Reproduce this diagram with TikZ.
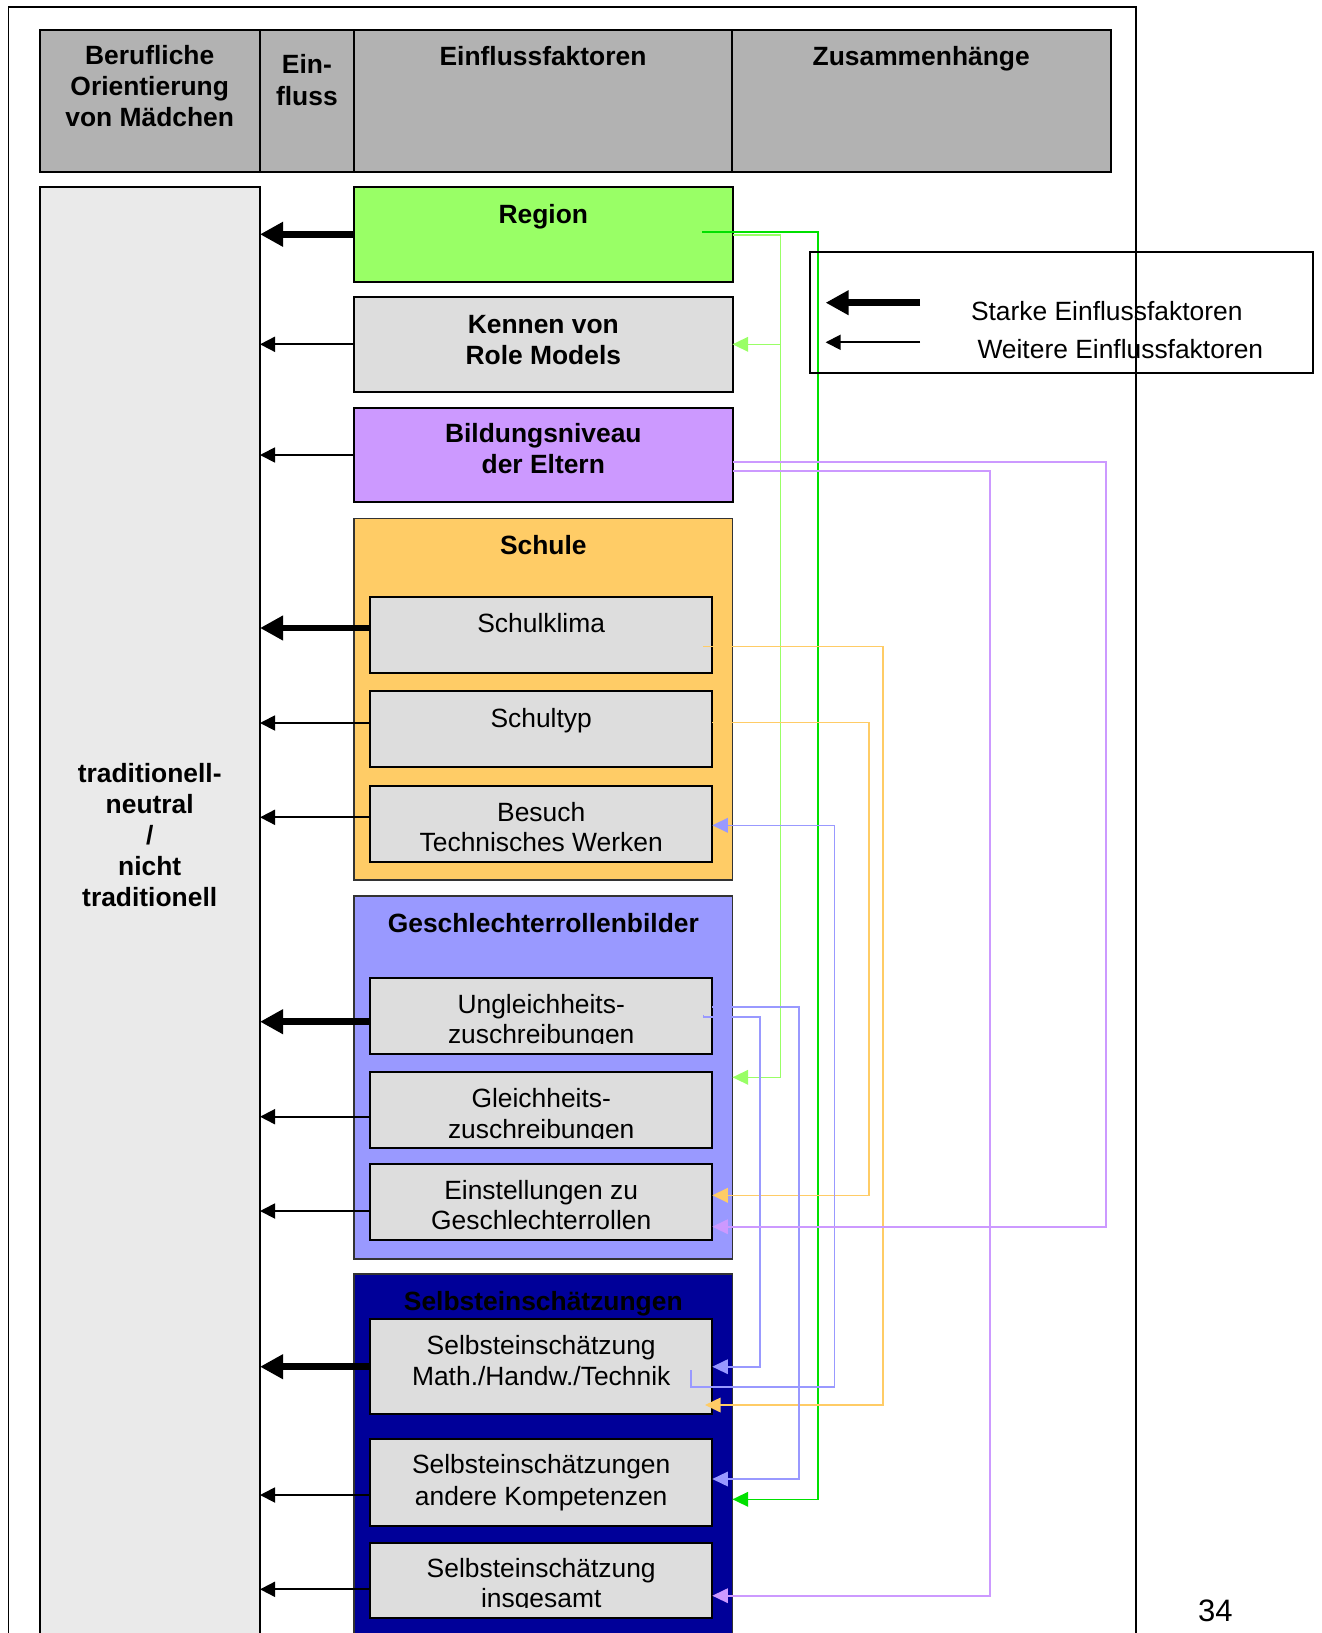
\documentclass[tikz,border=0pt]{standalone}
\usepackage{fontspec}
\setmainfont{Liberation Sans}
\usetikzlibrary{arrows.meta}
\definecolor{hdrgray}{HTML}{B2B2B2}
\definecolor{leftgray}{HTML}{EAEAEA}
\definecolor{boxgray}{HTML}{DDDDDD}
\definecolor{regiongreen}{HTML}{99FF66}
\definecolor{eduviolet}{HTML}{CC99FF}
\definecolor{schoolorange}{HTML}{FFCC66}
\definecolor{genderblue}{HTML}{9999FF}
\definecolor{selfnavy}{HTML}{000099}
\definecolor{darkgreenline}{HTML}{00E000}
\newcommand\diafont{\fontsize{13.2pt}{15.3pt}\selectfont}
\newcommand\mkbox[6]{\node[#1, minimum width={(#5-#3)*0.5pt}, minimum height={(#6-#4)*0.5pt}] (#2) at ({(#3+#5)/2},{(#4+#6)/2}) {};}
\begin{document}
\begin{tikzpicture}[x=0.5pt,y=-0.5pt,
  every node/.style={inner sep=0pt,outer sep=0pt},
  frame/.style={draw=black,line width=0.9pt,rectangle},
  hdrcell/.style={draw=black,line width=1pt,fill=hdrgray,rectangle},
  leftbox/.style={draw=black,line width=1pt,fill=leftgray,rectangle},
  factorbox/.style={draw=black,line width=1pt,rectangle},
  groupbox/.style={draw=black!80,line width=0.8pt,rectangle},
  innerbox/.style={draw=black,line width=1pt,fill=boxgray,rectangle},
  legendbox/.style={draw=black,line width=1pt,rectangle},
  txt/.style={anchor=base,font=\diafont},
  btxt/.style={anchor=base,font=\diafont\bfseries},
  strongarr/.style={line width=3.35pt,-{Triangle[length=11.5pt,width=11.7pt]}},
  weakarr/.style={line width=0.9pt,-{Triangle[length=7.5pt,width=7.5pt]}},
  link/.style={line width=0.8pt,-{Triangle[length=7.8pt,width=7.3pt]}}]
\useasboundingbox (0,0) rectangle (1322,1633);

% page frame
\mkbox{frame}{page}{8.4}{7.3}{1135.7}{1660}

% header
\mkbox{hdrcell}{hdrA}{39.6}{30}{259.7}{171.7}
\mkbox{hdrcell}{hdrB}{259.7}{30}{354.1}{171.7}
\mkbox{hdrcell}{hdrC}{354.1}{30}{731.9}{171.7}
\mkbox{hdrcell}{hdrD}{731.9}{30}{1110.5}{171.7}
\node[btxt] (hA1) at (149.7,64) {Berufliche};
\node[btxt] (hA2) at (149.7,95.4) {Orientierung};
\node[btxt] (hA3) at (149.7,126) {von Mädchen};
\node[btxt] (hB1) at (306.9,73.3) {Ein-};
\node[btxt] (hB2) at (306.9,105) {fluss};
\node[btxt] (hC1) at (543,65) {Einflussfaktoren};
\node[btxt] (hD1) at (921.2,65) {Zusammenhänge};

% left column
\mkbox{leftbox}{leftcol}{39.6}{187}{260}{1660}
\node[btxt] (tr1) at (149.7,782.7) {traditionell-};
\node[btxt] (tr2) at (149.7,813.5) {neutral};
\node[btxt] (tr3) at (149.7,844.3) {/};
\node[btxt] (tr4) at (149.7,875.1) {nicht};
\node[btxt] (tr5) at (149.7,906) {traditionell};

% factor boxes
\mkbox{factorbox,fill=regiongreen}{region}{354.1}{187.3}{732.5}{281.7}
\mkbox{factorbox,fill=boxgray}{kennen}{354.1}{297.3}{732.5}{392}
\mkbox{factorbox,fill=eduviolet}{bildung}{354.1}{408}{732.5}{502.2}
\mkbox{groupbox,fill=schoolorange}{schule}{354.1}{518.3}{732.5}{880}
\mkbox{groupbox,fill=genderblue}{geschl}{354.1}{896}{732.5}{1258.7}
\mkbox{groupbox,fill=selfnavy}{selbst}{354.1}{1274}{732.5}{1660}

% inner boxes
\mkbox{innerbox}{klima}{370}{597}{712.3}{673}
\mkbox{innerbox}{typ}{370}{691.3}{712.3}{767.3}
\mkbox{innerbox}{besuch}{370}{786}{712.3}{862}
\mkbox{innerbox}{ungl}{370}{977.7}{712.3}{1054}
\mkbox{innerbox}{gleich}{370}{1072.3}{712.3}{1148.3}
\mkbox{innerbox}{einst}{370}{1164.3}{712.3}{1240}
\mkbox{innerbox}{math}{370}{1319.3}{712.3}{1414.3}
\mkbox{innerbox}{andere}{370}{1439}{712.3}{1526}
\mkbox{innerbox}{insg}{370}{1542.7}{712.3}{1618}

% texts of factor boxes
\node[btxt] (regiont) at (543.3,223.3) {Region};
\node[btxt] (kennent1) at (543.3,333.3) {Kennen von};
\node[btxt] (kennent2) at (543.3,364) {Role Models};
\node[btxt] (bildungt1) at (543.3,442.7) {Bildungsniveau};
\node[btxt] (bildungt2) at (543.3,473.3) {der Eltern};
\node[btxt] (schulet) at (543.3,554) {Schule};
\node[txt] (klimat) at (541.2,632.3) {Schulklima};
\node[txt] (typt) at (541.2,727.7) {Schultyp};
\node[txt] (besucht1) at (541.2,821) {Besuch};
\node[txt] (besucht2) at (541.2,851.7) {Technisches Werken};
\node[btxt] (geschlt) at (543.3,932.3) {Geschlechterrollenbilder};
\node[txt] (unglt1) at (541.2,1013.3) {Ungleichheits-};
\begin{scope}
\clip (370,1000) rectangle (712.3,1043.6);
\node[txt] (unglt2) at (541.2,1043) {zuschreibungen};
\end{scope}
\node[txt] (gleicht1) at (541.2,1107.5) {Gleichheits-};
\begin{scope}
\clip (370,1090) rectangle (712.3,1138.8);
\node[txt] (gleicht2) at (541.2,1138.2) {zuschreibungen};
\end{scope}
\node[txt] (einstt1) at (541.2,1199) {Einstellungen zu};
\node[txt] (einstt2) at (541.2,1229.3) {Geschlechterrollen};
\node[btxt] (selbstt) at (543.3,1310) {Selbsteinschätzungen};
\node[txt] (matht1) at (541.2,1354) {Selbsteinschätzung};
\node[txt] (matht2) at (541.2,1385) {Math./Handw./Technik};
\node[txt] (anderet1) at (541.2,1473.3) {Selbsteinschätzungen};
\node[txt] (anderet2) at (541.2,1505) {andere Kompetenzen};
\node[txt] (insgt1) at (541.2,1577.3) {Selbsteinschätzung};
\begin{scope}
\clip (370,1585) rectangle (712.3,1607.9);
\node[txt] (insgt2) at (541.2,1607.3) {insgesamt};
\end{scope}

% influence arrows to the left column
\draw[strongarr] (region.west |- 0,234.3) -- (leftcol.east |- 0,234.3);
\draw[weakarr] (kennen.west |- 0,344.3) -- (leftcol.east |- 0,344.3);
\draw[weakarr] (bildung.west |- 0,455) -- (leftcol.east |- 0,455);
\draw[strongarr] (klima.west |- 0,628) -- (leftcol.east |- 0,628);
\draw[weakarr] (typ.west |- 0,723) -- (leftcol.east |- 0,723);
\draw[weakarr] (besuch.west |- 0,817.3) -- (leftcol.east |- 0,817.3);
\draw[strongarr] (ungl.west |- 0,1021.7) -- (leftcol.east |- 0,1021.7);
\draw[weakarr] (gleich.west |- 0,1116.7) -- (leftcol.east |- 0,1116.7);
\draw[weakarr] (einst.west |- 0,1211) -- (leftcol.east |- 0,1211);
\draw[strongarr] (math.west |- 0,1366.7) -- (leftcol.east |- 0,1366.7);
\draw[weakarr] (andere.west |- 0,1495) -- (leftcol.east |- 0,1495);
\draw[weakarr] (insg.west |- 0,1589.3) -- (leftcol.east |- 0,1589.3);

% interrelation connectors
\coordinate (dgstart) at (702,231.7);
\coordinate (lgbranch) at (780.3,344.3);
\coordinate (orstart) at (703.3,646.3);
\coordinate (orend) at (705,1405);
\coordinate (blstart) at (703.3,1014.5);
\coordinate (mathout) at (691,1370);
\draw[link,color=darkgreenline] (dgstart) -- (817.7,231.7) -- (817.7,1499.3) -- (selbst.east |- 0,1499.3);
\draw[link,color=regiongreen] (region.east |- 0,235) -- (780.3,235) -- (780.3,1077.3) -- (geschl.east |- 0,1077.3);
\draw[link,color=regiongreen] (lgbranch) -- (kennen.east |- 0,344.3);
\draw[link,color=schoolorange] (orstart) -- (882.7,646.3) -- (882.7,1405) -- (orend);
\draw[link,color=schoolorange] (typ.east |- 0,722.3) -- (868.7,722.3) -- (868.7,1195.3) -- (einst.east |- 0,1195.3);
\draw[link,color=genderblue] (ungl.east |- 0,1006.7) -- (798.7,1006.7) -- (798.7,1479) -- (andere.east |- 0,1479);
\draw[link,color=genderblue] (blstart) -- (703.3,1016.7) -- (760,1016.7) -- (760,1366.7) -- (math.east |- 0,1366.7);
\draw[link,color=genderblue] (mathout) -- (691,1387) -- (834.3,1387) -- (834.3,825.3) -- (besuch.east |- 0,825.3);
\draw[link,color=eduviolet] (bildung.east |- 0,461.7) -- (1105.7,461.7) -- (1105.7,1226.7) -- (einst.east |- 0,1226.7);
\draw[link,color=eduviolet] (bildung.east |- 0,470.7) -- (990,470.7) -- (990,1595.7) -- (insg.east |- 0,1595.7);

% legend
\mkbox{legendbox}{legend}{809.8}{251.7}{1313.3}{373.3}
\coordinate (lgAs) at (920,302.7);
\coordinate (lgAe) at (825.6,302.7);
\coordinate (lgBs) at (920,342.3);
\coordinate (lgBe) at (825.6,342.3);
\draw[strongarr,line width=3.6pt] (lgAs) -- (lgAe);
\draw[weakarr] (lgBs) -- (lgBe);
\node[txt,anchor=base west] (lgAt) at (971,320.7) {Starke Einflussfaktoren};
\node[txt,anchor=base west] (lgBt) at (977.5,358.3) {Weitere Einflussfaktoren};

% page number
\node[anchor=base,font=\fontsize{15.5pt}{18pt}\selectfont] (pagenum) at (1215.3,1621.7) {34};
\end{tikzpicture}
\end{document}
